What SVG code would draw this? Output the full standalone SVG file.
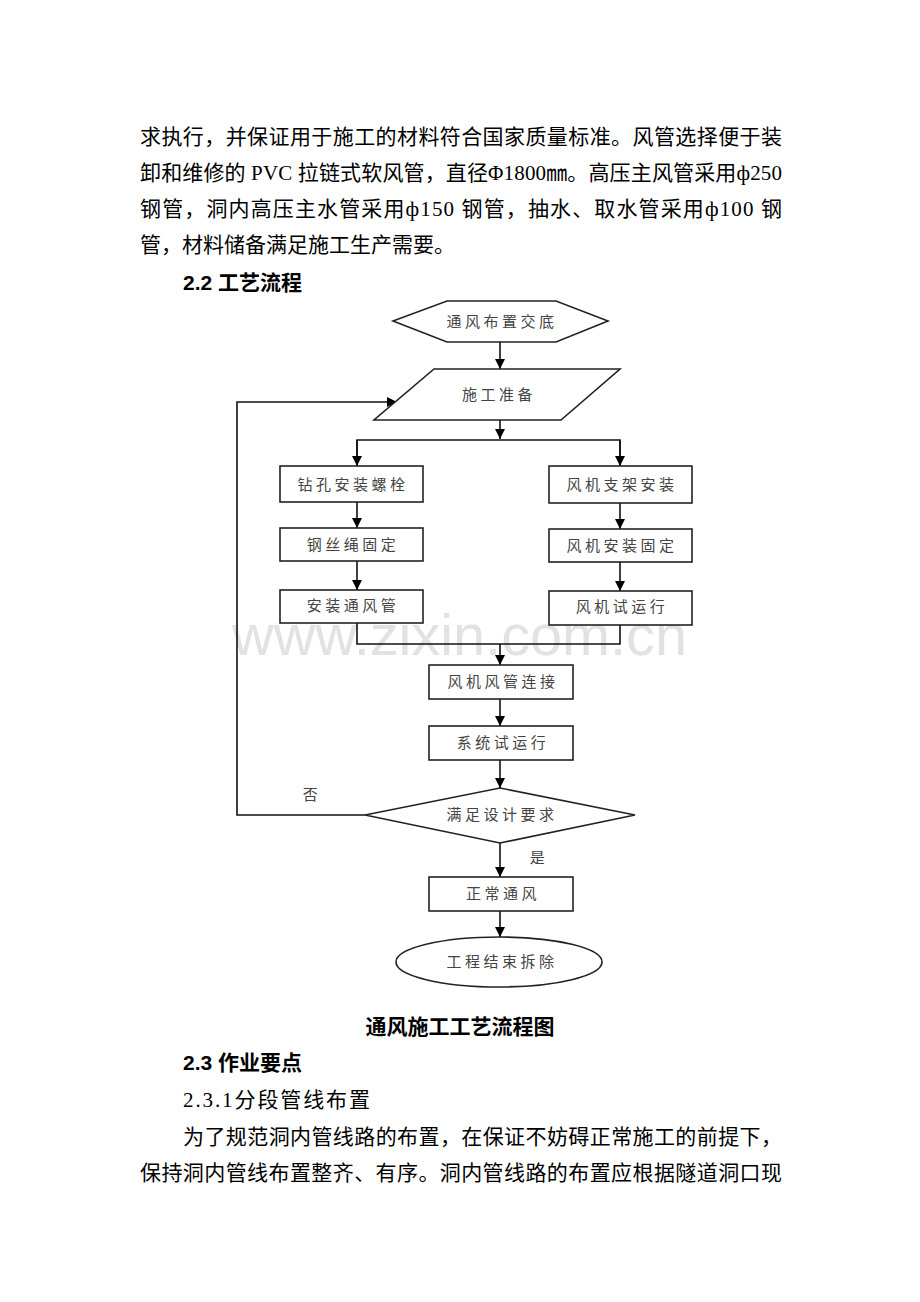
<svg xmlns="http://www.w3.org/2000/svg" width="920" height="1302" viewBox="0 0 920 1302">
<style>
.body{font-family:"Liberation Serif","Noto Sans CJK SC",serif;font-size:21px;fill:#000}
.head{font-family:"Liberation Sans","Noto Sans CJK SC",sans-serif;font-size:21px;font-weight:bold;fill:#000}
.lbl{font-family:"Noto Sans CJK SC",sans-serif;font-size:15px;fill:#444;letter-spacing:3.5px;text-anchor:middle}
.shape{fill:#fff;stroke:#222;stroke-width:1.6}
.conn{fill:none;stroke:#111;stroke-width:1.6}
.wm{font-family:"Liberation Sans",Arial,sans-serif;font-size:57px;fill:#e2e2e2}
</style>
<defs>
<marker id="ah" viewBox="0 0 10 10" refX="10" refY="5" markerWidth="10" markerHeight="10" markerUnits="userSpaceOnUse" orient="auto">
<path d="M0,0 L10,5 L0,10 Z" fill="#000"/>
</marker>
</defs>
<rect width="920" height="1302" fill="#fff"/>

<g id="paragraph-top">
<text class="body" x="140" y="144" textLength="642" lengthAdjust="spacing">求执行，并保证用于施工的材料符合国家质量标准。风管选择便于装</text>
<text class="body" x="140" y="180" textLength="642" lengthAdjust="spacing">卸和维修的 PVC 拉链式软风管，直径Φ1800㎜。高压主风管采用ф250</text>
<text class="body" x="140" y="216" textLength="642" lengthAdjust="spacing">钢管，洞内高压主水管采用ф150 钢管，抽水、取水管采用ф100 钢</text>
<text class="body" x="140" y="252">管，材料储备满足施工生产需要。</text>
<text class="head" x="183" y="290">2.2 工艺流程</text>
</g>

<text class="wm" x="232" y="655" textLength="455" lengthAdjust="spacingAndGlyphs">www.zixin.com.cn</text>

<g id="connectors">
<line class="conn" x1="500" y1="342" x2="500" y2="369" marker-end="url(#ah)"/>
<line class="conn" x1="500" y1="420" x2="500" y2="439" marker-end="url(#ah)"/>
<polyline class="conn" points="357,465 357,440 620,440 620,465"/>
<line class="conn" x1="357" y1="440" x2="357" y2="466" marker-end="url(#ah)"/>
<line class="conn" x1="620" y1="440" x2="620" y2="466" marker-end="url(#ah)"/>
<line class="conn" x1="357" y1="502" x2="357" y2="528" marker-end="url(#ah)"/>
<line class="conn" x1="357" y1="561" x2="357" y2="590" marker-end="url(#ah)"/>
<line class="conn" x1="620" y1="503" x2="620" y2="529" marker-end="url(#ah)"/>
<line class="conn" x1="620" y1="562" x2="620" y2="591" marker-end="url(#ah)"/>
<polyline class="conn" points="357,623 357,644 620,644 620,625"/>
<line class="conn" x1="500" y1="644" x2="500" y2="665" marker-end="url(#ah)"/>
<line class="conn" x1="500" y1="699" x2="500" y2="726" marker-end="url(#ah)"/>
<line class="conn" x1="500" y1="760" x2="500" y2="788" marker-end="url(#ah)"/>
<line class="conn" x1="500" y1="843" x2="500" y2="877" marker-end="url(#ah)"/>
<line class="conn" x1="500" y1="911" x2="500" y2="937" marker-end="url(#ah)"/>
<polyline class="conn" points="365,815 237,815 237,402 397,402" marker-end="url(#ah)"/>
<text class="lbl" x="312" y="800">否</text>
<text class="lbl" x="539" y="863">是</text>
</g>

<g id="n-start">
<polygon class="shape" points="393,321 447,301 556,301 608,321 556,342 447,342"/>
<text class="lbl" x="502" y="327">通风布置交底</text>
</g>
<g id="n-prep">
<polygon class="shape" points="434,369 620,369 561,420 374,420"/>
<text class="lbl" x="499" y="400">施工准备</text>
</g>
<g id="n-drill">
<rect class="shape" x="280" y="466" width="143" height="36"/>
<text class="lbl" x="353" y="490">钻孔安装螺栓</text>
</g>
<g id="n-wire">
<rect class="shape" x="280" y="528" width="143" height="33"/>
<text class="lbl" x="353" y="550">钢丝绳固定</text>
</g>
<g id="n-duct">
<rect class="shape" x="280" y="590" width="143" height="33"/>
<text class="lbl" x="353" y="611">安装通风管</text>
</g>
<g id="n-bracket">
<rect class="shape" x="549" y="466" width="143" height="37"/>
<text class="lbl" x="622" y="490">风机支架安装</text>
</g>
<g id="n-fanfix">
<rect class="shape" x="549" y="529" width="143" height="33"/>
<text class="lbl" x="622" y="551">风机安装固定</text>
</g>
<g id="n-fantest">
<rect class="shape" x="549" y="591" width="143" height="34"/>
<text class="lbl" x="622" y="612">风机试运行</text>
</g>
<g id="n-connect">
<rect class="shape" x="429" y="665" width="144" height="34"/>
<text class="lbl" x="503" y="687">风机风管连接</text>
</g>
<g id="n-systest">
<rect class="shape" x="429" y="726" width="144" height="34"/>
<text class="lbl" x="503" y="748">系统试运行</text>
</g>
<g id="n-check">
<polygon class="shape" points="500,788 635,815 500,843 365,815"/>
<text class="lbl" x="502" y="820">满足设计要求</text>
</g>
<g id="n-normal">
<rect class="shape" x="429" y="877" width="144" height="34"/>
<text class="lbl" x="503" y="899">正常通风</text>
</g>
<g id="n-end">
<ellipse class="shape" cx="499" cy="962" rx="103" ry="25"/>
<text class="lbl" x="502" y="967">工程结束拆除</text>
</g>

<g id="paragraph-bottom">
<text class="head" x="460" y="1034" text-anchor="middle">通风施工工艺流程图</text>
<text class="head" x="183" y="1070">2.3 作业要点</text>
<text class="body" x="183" y="1107" textLength="187" lengthAdjust="spacing">2.3.1分段管线布置</text>
<text class="body" x="183" y="1144" textLength="599" lengthAdjust="spacing">为了规范洞内管线路的布置，在保证不妨碍正常施工的前提下，</text>
<text class="body" x="140" y="1180" textLength="642" lengthAdjust="spacing">保持洞内管线布置整齐、有序。洞内管线路的布置应根据隧道洞口现</text>
</g>
</svg>
